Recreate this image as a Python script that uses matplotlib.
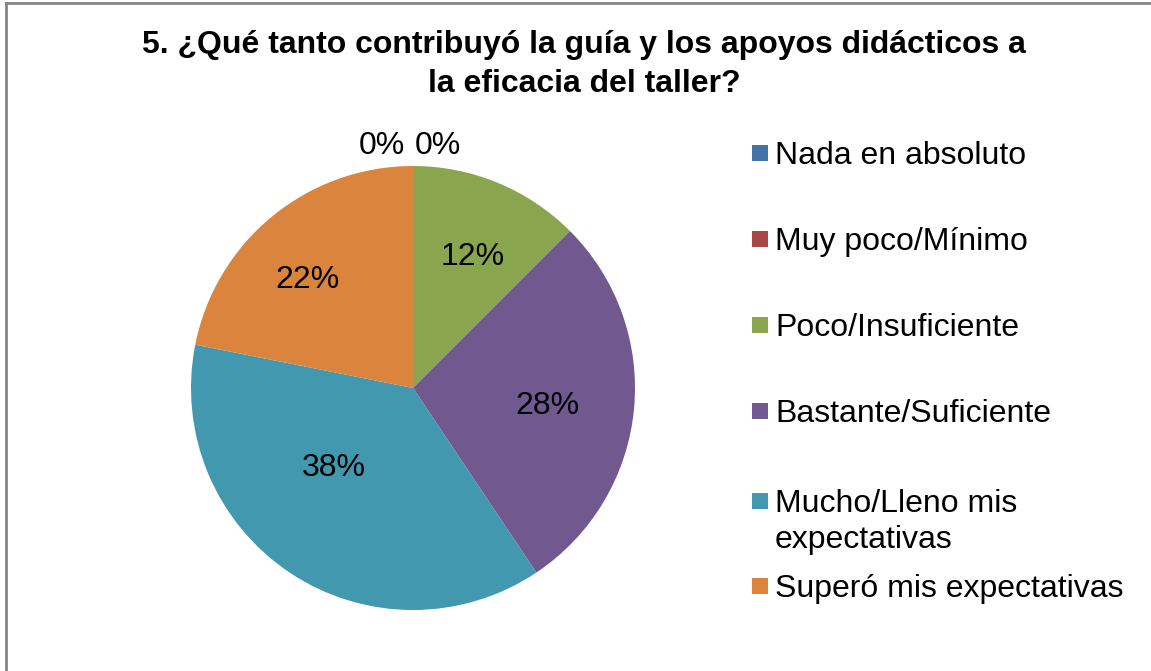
import numpy as np
import matplotlib.pyplot as plt
from matplotlib.lines import Line2D
from matplotlib.patches import Rectangle

plt.rcParams['font.family'] = ['Liberation Sans', 'DejaVu Sans']

title = "5. ¿Qué tanto contribuyó la guía y los apoyos didácticos a\nla eficacia del taller?"
categories = ["Nada en absoluto", "Muy poco/Mínimo", "Poco/Insuficiente",
              "Bastante/Suficiente", "Mucho/Lleno mis\nexpectativas",
              "Superó mis expectativas"]
counts = [0, 0, 4, 9, 12, 7]
colors = ['#4572A7', '#AA4643', '#89A54E', '#71588F', '#4198AF', '#DB843D']

W, H = 1151, 671
fig = plt.figure(figsize=(W / 100, H / 100), dpi=100)

# pie area: centre (413, 388) px, radius 222 px
cx, cy, r = 413, 388, 222
ax = fig.add_axes([(cx - r) / W, (H - cy - r) / H, 2 * r / W, 2 * r / H])
wedges, _ = ax.pie(counts, colors=colors, startangle=90, counterclock=False,
                   radius=1, wedgeprops=dict(linewidth=0))
ax.set_xlim(-1, 1)
ax.set_ylim(-1, 1)
ax.set_aspect('equal')
ax.axis('off')

# percentage labels, placed roughly like Excel's best fit
total = sum(counts)
label_dist = [1.09, 1.09, 0.65, 0.61, 0.51, 0.68]
angle_shift = [0, 0, 2, 2, 11, -5]
zero_nudge = [-0.14, 0.11, 0, 0, 0, 0]
for i, w in enumerate(wedges):
    mid = np.deg2rad((w.theta1 + w.theta2) / 2 - angle_shift[i])
    x = label_dist[i] * np.cos(mid) + zero_nudge[i]
    y = label_dist[i] * np.sin(mid)
    ax.text(x, y, f"{100 * counts[i] / total:.0f}%", ha='center', va='center',
            fontsize=23, color='black', clip_on=False)

# title, one line at a time so the baselines land where Excel put them
for k, line in enumerate(title.split('\n')):
    fig.text(584 / W, 1 - (53 + 39 * k) / H, line, ha='center', va='baseline',
             fontsize=23, fontweight='bold')

# legend drawn by hand to mimic the Excel spacing
baselines = [164, 250, 336, 422, 512, 597]
sq = 16
for lab, col, b in zip(categories, colors, baselines):
    fig.patches.append(Rectangle((752 / W, (H - b + 3) / H), sq / W, sq / H,
                                 transform=fig.transFigure, facecolor=col,
                                 edgecolor='none'))
    for k, line in enumerate(lab.split('\n')):
        fig.text(775 / W, 1 - (b + 36 * k) / H, line, ha='left', va='baseline',
                 fontsize=23)

# chart frame (top and left edges visible)
fig.add_artist(Line2D([6 / W, 1], [1 - 3 / H, 1 - 3 / H], color='#868686', lw=2,
                      transform=fig.transFigure))
fig.add_artist(Line2D([6 / W, 6 / W], [0, 1 - 3 / H], color='#868686', lw=2,
                      transform=fig.transFigure))

fig.savefig('out.png', dpi=100, facecolor='white')
